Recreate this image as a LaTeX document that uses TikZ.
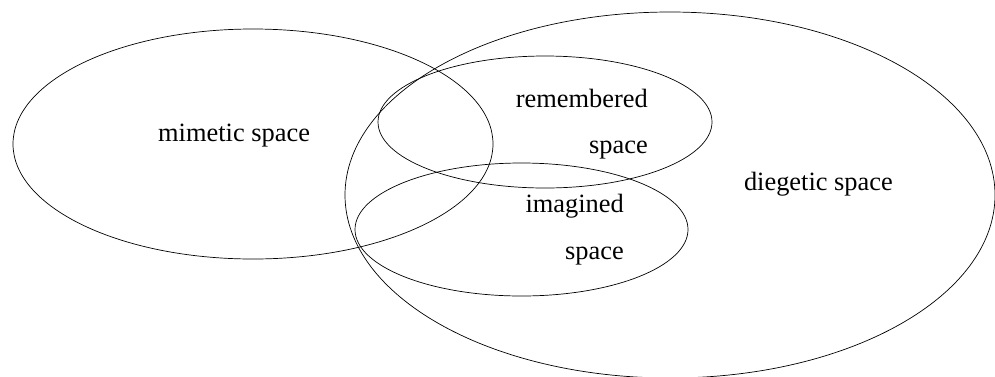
\documentclass[tikz,border=0pt]{standalone}
\usepackage{fontspec}
\setmainfont{Liberation Serif}
\newfontfamily\timesfont{Liberation Serif}
\begin{document}
\begin{tikzpicture}[x=1pt,y=-1pt,
  region/.style={draw=black,line width=0.7pt},
  lbl/.style={font=\timesfont\fontsize{26.4}{30}\selectfont,inner sep=0pt}]
\useasboundingbox (0,0) rectangle (995,376);
\clip (0,0) rectangle (995,376);
% regions
\draw[region] (253,144) ellipse [x radius=240, y radius=115];
\draw[region] (670,195) ellipse [x radius=325, y radius=183];
\draw[region] (545,122) ellipse [x radius=167, y radius=66];
\draw[region] (521.5,229.5) ellipse [x radius=166.5, y radius=66.5];
% labels
\node[lbl,anchor=base west] (mim) at (158,141) {mimetic space};
\node[lbl,anchor=base east] (rem1) at (648,107) {remembered};
\node[lbl,anchor=base east] (rem2) at (648,153) {space};
\node[lbl,anchor=base east] (img1) at (624,212) {imagined};
\node[lbl,anchor=base east] (img2) at (624,259) {space};
\node[lbl,anchor=base east] (dieg) at (893,190) {diegetic space};
\end{tikzpicture}
\end{document}
